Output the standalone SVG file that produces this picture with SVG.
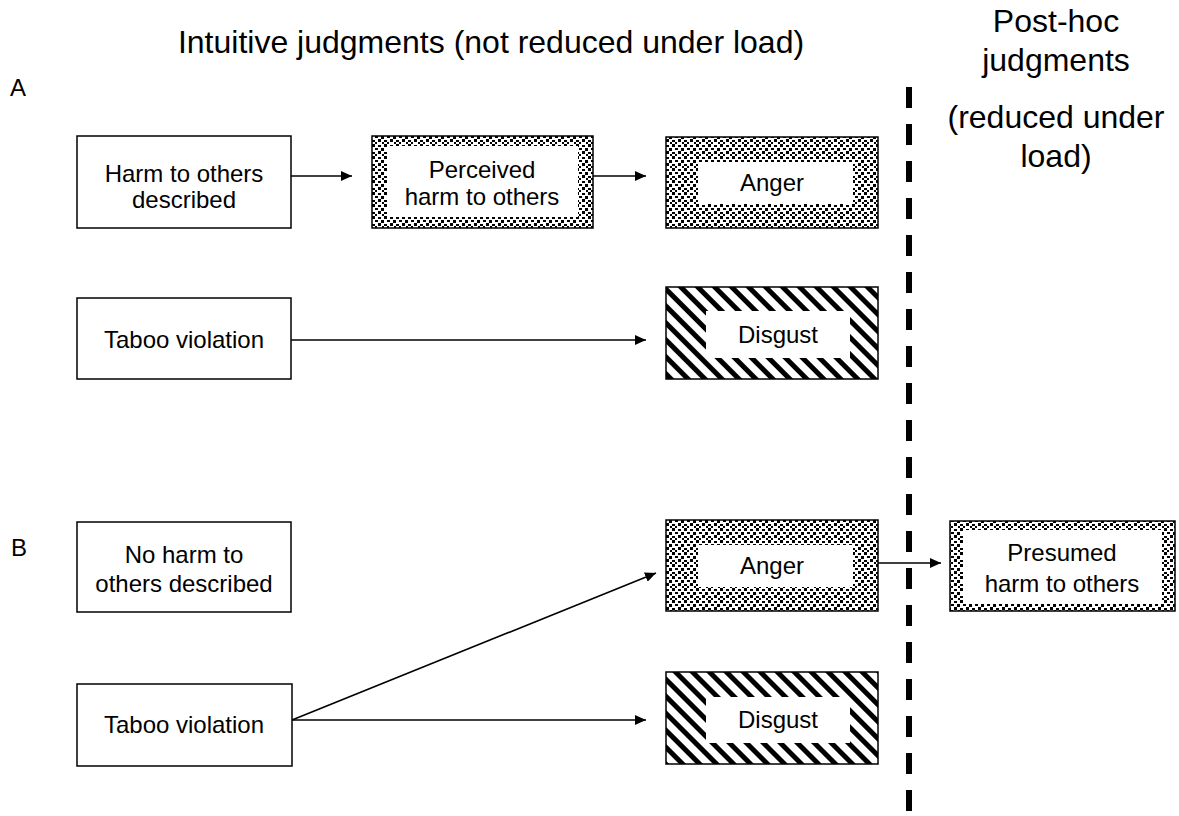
<svg xmlns="http://www.w3.org/2000/svg" width="1179" height="816" viewBox="0 0 1179 816">
<style>
text{font-family:"Liberation Sans",Arial,sans-serif;fill:#000}
.t{font-size:24px;text-anchor:middle}
.h{font-size:32px;text-anchor:middle}
.box{fill:#fff;stroke:#000;stroke-width:1.5}
.dot{fill:url(#dots);stroke:#000;stroke-width:1.5}
.str{fill:url(#stripes);stroke:#000;stroke-width:1.5}
.in{fill:#fff}
.c{stroke:#000;stroke-width:1.6;fill:none;marker-end:url(#ah)}
</style>
<defs>
<pattern id="dots" width="12" height="12" patternUnits="userSpaceOnUse">
<rect width="12" height="12" fill="#fff"/>
<rect x="0" y="0" width="3" height="3" fill="#000"/>
<rect x="6" y="1" width="3" height="2" fill="#000"/>
<rect x="3" y="4" width="3" height="2" fill="#000"/>
<rect x="9" y="4" width="3" height="3" fill="#000"/>
<rect x="0" y="8" width="3" height="2" fill="#000"/>
<rect x="6" y="7" width="3" height="3" fill="#000"/>
<rect x="3" y="10" width="2" height="2" fill="#000"/>
<rect x="10" y="10" width="2" height="2" fill="#000"/>
</pattern>
<pattern id="stripes" width="12" height="12" patternUnits="userSpaceOnUse" patternTransform="rotate(-45)">
<rect width="12" height="12" fill="#fff"/>
<rect x="0" y="0" width="5" height="12" fill="#000"/>
</pattern>
<marker id="ah" markerWidth="11" markerHeight="10" refX="11" refY="5" orient="auto" markerUnits="userSpaceOnUse">
<path d="M0,0 L11,5 L0,10 Z" fill="#000"/>
</marker>
</defs>

<g id="headers">
<text class="h" x="491" y="53">Intuitive judgments (not reduced under load)</text>
<text class="h" x="1056" y="32">Post-hoc</text>
<text class="h" x="1056" y="71">judgments</text>
<text class="h" x="1056" y="128">(reduced under</text>
<text class="h" x="1056" y="167">load)</text>
<text x="10" y="96" font-size="24">A</text>
<text x="11" y="556" font-size="24">B</text>
</g>

<g id="divider">
<line x1="909" y1="87" x2="909" y2="816" stroke="#000" stroke-width="6" stroke-dasharray="21 16"/>
</g>

<g id="connectors">
<line class="c" x1="291" y1="176" x2="352" y2="176"/>
<line class="c" x1="593" y1="176" x2="646" y2="176"/>
<line class="c" x1="291" y1="340" x2="646" y2="340"/>
<line class="c" x1="878" y1="563" x2="941" y2="563"/>
<line class="c" x1="292" y1="720" x2="656" y2="573"/>
<line class="c" x1="292" y1="720" x2="646" y2="720"/>
</g>

<g id="harmA">
<rect class="box" x="77" y="136" width="214" height="92"/>
<text class="t" x="184" y="182">Harm to others</text>
<text class="t" x="184" y="208">described</text>
</g>
<g id="perceived">
<rect class="dot" x="372" y="136" width="221" height="92"/>
<rect class="in" x="387" y="146" width="191" height="71"/>
<text class="t" x="482" y="178">Perceived</text>
<text class="t" x="482" y="205">harm to others</text>
</g>
<g id="angerA">
<rect class="dot" x="666" y="137" width="212" height="91"/>
<rect class="in" x="698" y="162" width="155" height="42"/>
<text class="t" x="772" y="191">Anger</text>
</g>
<g id="tabooA">
<rect class="box" x="77" y="298" width="214" height="81"/>
<text class="t" x="184" y="348">Taboo violation</text>
</g>
<g id="disgustA">
<rect class="str" x="666" y="287" width="212" height="92"/>
<rect class="in" x="706" y="311" width="144" height="47"/>
<text class="t" x="778" y="343">Disgust</text>
</g>

<g id="noharmB">
<rect class="box" x="77" y="522" width="214" height="90"/>
<text class="t" x="184" y="563">No harm to</text>
<text class="t" x="184" y="592">others described</text>
</g>
<g id="angerB">
<rect class="dot" x="666" y="520" width="212" height="91"/>
<rect class="in" x="698" y="545" width="155" height="42"/>
<text class="t" x="772" y="574">Anger</text>
</g>
<g id="presumed">
<rect class="dot" x="950" y="521" width="225" height="90"/>
<rect class="in" x="963" y="530" width="199" height="73"/>
<text class="t" x="1062" y="561">Presumed</text>
<text class="t" x="1062" y="592">harm to others</text>
</g>
<g id="tabooB">
<rect class="box" x="77" y="684" width="215" height="82"/>
<text class="t" x="184" y="733">Taboo violation</text>
</g>
<g id="disgustB">
<rect class="str" x="666" y="672" width="212" height="92"/>
<rect class="in" x="706" y="697" width="144" height="46"/>
<text class="t" x="778" y="728">Disgust</text>
</g>
</svg>
